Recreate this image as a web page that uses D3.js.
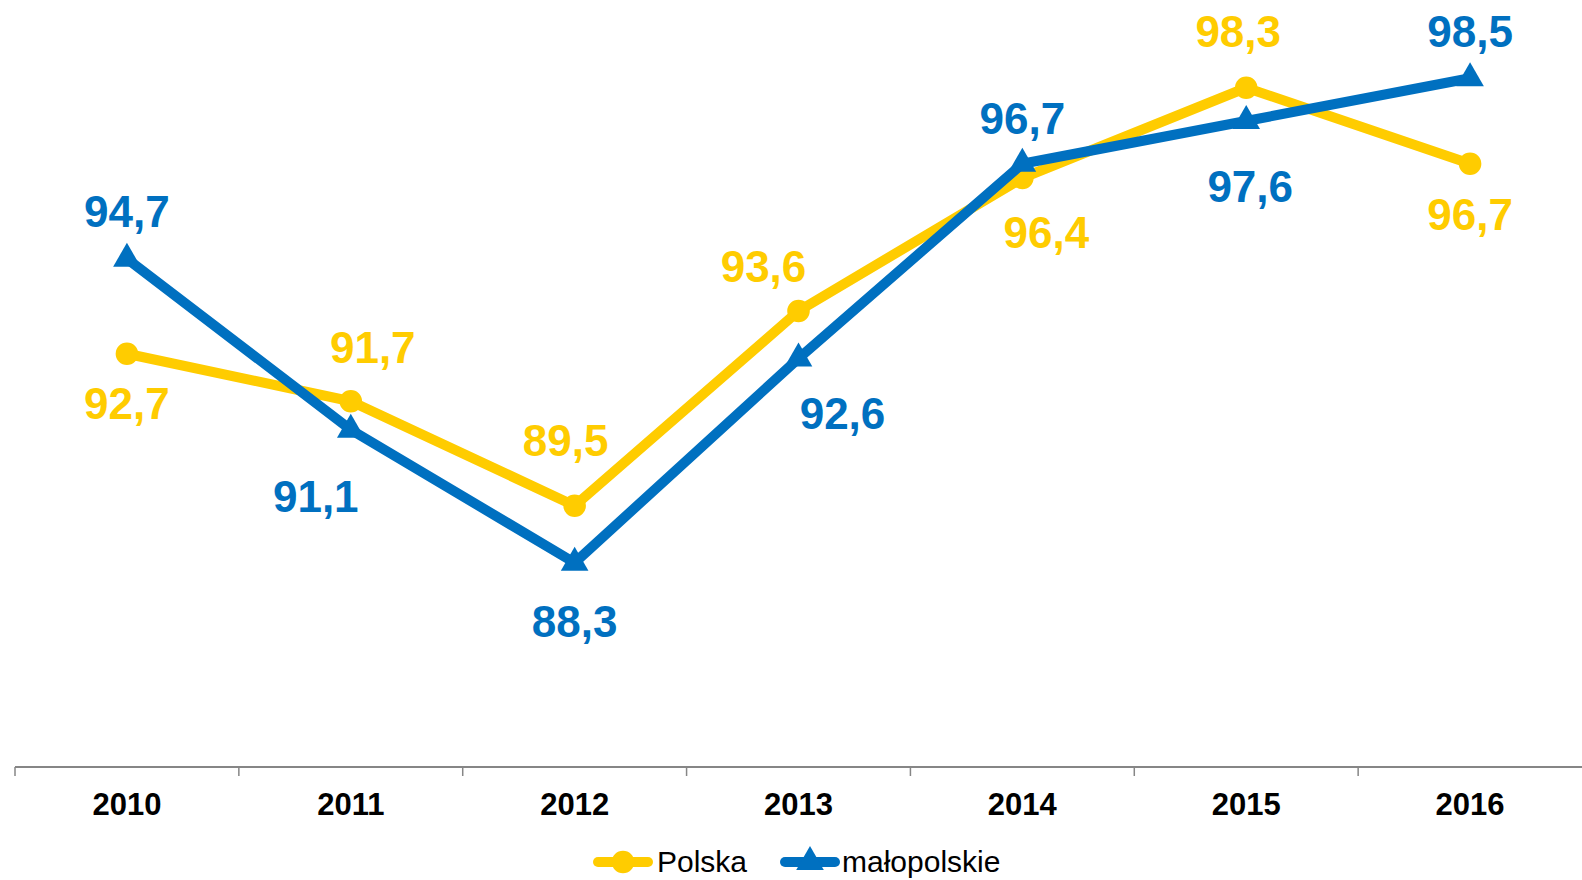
<!DOCTYPE html>
<html lang="pl">
  <head>
    <meta charset="UTF-8" />
    <title>Polska / małopolskie</title>
    <script src="https://d3js.org/d3.v7.min.js"></script>
    <style>
      body { margin: 0; background: #fff; }
      text { font-family: "Liberation Sans", Arial, sans-serif; }
    </style>
  </head>

  <body>
    <svg width="1582" height="880"></svg>
    <script>
      const years = ["2010", "2011", "2012", "2013", "2014", "2015", "2016"];
      const polska = [92.7, 91.7, 89.5, 93.6, 96.4, 98.3, 96.7];
      const malopolskie = [94.7, 91.1, 88.3, 92.6, 96.7, 97.6, 98.5];

      // label nudges (px) from each point, as placed in the original
      const polskaLabelOffset = [[0, 49], [22, -54], [-9, -66], [-35, -45], [24, 54], [-8, -57], [0, 50]];
      const malopolskieLabelOffset = [[0, -48], [-35, 66], [0, 58], [44, 54], [0, -46], [4, 65], [0, -47]];

      const svg = d3.select("svg");
      const axisY = 767;

      const x = d3.scaleBand().domain(years).range([15, 1582]);
      const y = d3.scaleLinear().domain([84, 100]).range([axisY, 7]);
      const cx = (d) => x(d) + x.bandwidth() / 2;
      const fmt = (v) => d3.format(".1f")(v).replace(".", ",");

      // x axis
      const axis = svg.append("g").attr("transform", "translate(0," + axisY + ")");
      axis.call(d3.axisBottom(x).tickSize(0).tickPadding(26));
      axis.select(".domain").remove();
      axis.append("line")
        .attr("x1", 15).attr("x2", 1582)
        .attr("stroke", "#868686").attr("stroke-width", 2);
      axis.selectAll(".bound")
        .data(years)
        .join("line")
        .attr("x1", (d) => x(d)).attr("x2", (d) => x(d))
        .attr("y1", 0).attr("y2", 9)
        .attr("stroke", "#868686").attr("stroke-width", 1.5);
      axis.selectAll(".tick text")
        .attr("font-family", "Liberation Sans, Arial, sans-serif")
        .attr("font-size", 31)
        .attr("font-weight", "bold")
        .attr("fill", "#000");

      const series = [
        { name: "Polska", values: polska, offs: polskaLabelOffset, color: "#FFCC00", symbol: d3.symbolCircle, size: 400 },
        { name: "małopolskie", values: malopolskie, offs: malopolskieLabelOffset, color: "#0070C0", symbol: d3.symbolTriangle, size: 330 }
      ];

      const line = d3.line()
        .x((d, i) => cx(years[i]))
        .y((d) => y(d));

      series.forEach((s) => {
        const g = svg.append("g");
        g.append("path")
          .datum(s.values)
          .attr("fill", "none")
          .attr("stroke", s.color)
          .attr("stroke-width", 10)
          .attr("stroke-linejoin", "round")
          .attr("d", line);

        g.selectAll("path.mark")
          .data(s.values)
          .join("path")
          .attr("class", "mark")
          .attr("transform", (d, i) => "translate(" + cx(years[i]) + "," + y(d) + ")")
          .attr("d", d3.symbol().type(s.symbol).size(s.size))
          .attr("fill", s.color);
      });

      series.forEach((s) => {
        svg.append("g")
          .selectAll("text")
          .data(s.values)
          .join("text")
          .attr("x", (d, i) => cx(years[i]) + s.offs[i][0])
          .attr("y", (d, i) => y(d) + s.offs[i][1] + 16)
          .attr("text-anchor", "middle")
          .attr("font-size", 44)
          .attr("font-weight", "bold")
          .attr("fill", s.color)
          .text(fmt);
      });

      // legend
      const legend = svg.append("g").attr("transform", "translate(0,862)");
      const legendX = [593, 780];
      series.forEach((s, i) => {
        const lg = legend.append("g").attr("transform", "translate(" + legendX[i] + ",0)");
        lg.append("line")
          .attr("x1", 5).attr("x2", 55)
          .attr("stroke", s.color).attr("stroke-width", 10)
          .attr("stroke-linecap", "round");
        lg.append("path")
          .attr("transform", "translate(30,0)")
          .attr("d", d3.symbol().type(s.symbol).size(s.size))
          .attr("fill", s.color);
        lg.append("text")
          .attr("x", i === 0 ? 64 : 62)
          .attr("y", 10)
          .attr("font-size", 30)
          .attr("fill", "#000")
          .text(s.name);
      });
    </script>
  </body>
</html>
